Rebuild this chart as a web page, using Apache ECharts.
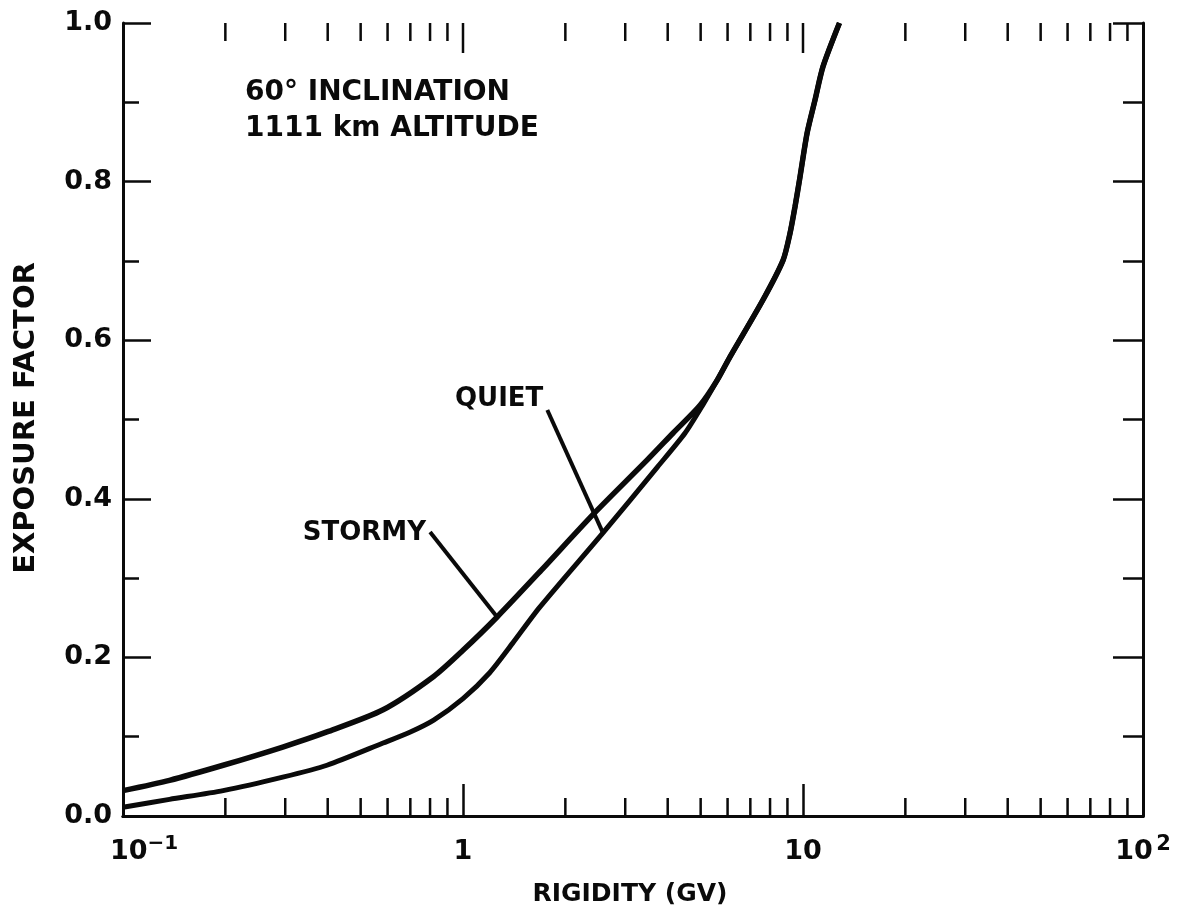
<!DOCTYPE html>
<html>
<head>
<meta charset="utf-8">
<script src="https://cdn.jsdelivr.net/npm/echarts@6/dist/echarts.min.js"></script>
<style>
  html, body { margin: 0; padding: 0; background: #fff; }
  #chart { width: 1179px; height: 916px; }
</style>
</head>
<body>
<div id="chart"></div>
<script>
// Exposure factor vs. rigidity, 60 deg orbit at 1111 km

// Lower branch of the curves, where the two conditions differ
const stormyRigidity = [0.1, 0.137, 0.197, 0.295, 0.398, 0.582, 0.82, 1.0, 1.26, 1.7, 2.41, 3.5, 4.15, 4.98, 5.6];
const stormyFactor   = [0.032, 0.045, 0.064, 0.087, 0.106, 0.134, 0.176, 0.209, 0.251, 0.31, 0.38, 0.45, 0.483, 0.518, 0.55];

const quietRigidity = [0.1, 0.137, 0.197, 0.295, 0.398, 0.582, 0.7, 0.82, 1.0, 1.2, 1.4, 1.68, 2.58, 3.73, 4.5, 5.1, 5.6];
const quietFactor   = [0.011, 0.021, 0.032, 0.049, 0.064, 0.092, 0.106, 0.121, 0.148, 0.181, 0.218, 0.263, 0.357, 0.44, 0.483, 0.52, 0.55];

// Upper branch, common to both conditions
const sharedRigidity = [6.1, 7.63, 8.74, 9.16, 9.47, 9.8, 10.28, 10.85, 11.45, 12.8];
const sharedFactor   = [0.579, 0.651, 0.701, 0.735, 0.768, 0.806, 0.861, 0.903, 0.945, 1.0];

// Log ticks: minor (2..9 in each decade) and inner decades
const minorTickValues = [0.2, 0.3, 0.4, 0.5, 0.6, 0.7, 0.8, 0.9, 2, 3, 4, 5, 6, 7, 8, 9, 20, 30, 40, 50, 60, 70, 80, 90];
const decadeTickValues = [1, 10];

// Curve labels with their leader lines (data coordinates: from label to curve)
const leaderLabels = ['QUIET', 'STORMY'];
const leaderFrom = [[1.77, 0.512], [0.80, 0.358]];
const leaderTo   = [[2.58, 0.357], [1.26, 0.251]];

const infoLines = ['60° INCLINATION', '1111 km ALTITUDE'];

const FONT = '"DejaVu Sans", "Liberation Sans", sans-serif';
const INK = '#0a0a0a';

function pairs(xs, ys) { return xs.map((x, i) => [x, ys[i]]); }

const stormyData = pairs(stormyRigidity, stormyFactor).concat(pairs(sharedRigidity, sharedFactor));
const quietData = pairs(quietRigidity, quietFactor).concat(pairs(sharedRigidity, sharedFactor));

const tickData = minorTickValues.map(v => [v, 0, 0]).concat(decadeTickValues.map(v => [v, 0, 1]));

const chart = echarts.init(document.getElementById('chart'), null, { renderer: 'canvas' });

const xTickLabel = function (v) {
  if (Math.abs(v - 0.1) < 1e-9) return '{bp|10}{s|−1}';
  if (Math.abs(v - 100) < 1e-9) return '{b|10} {s2|2}';
  return '{b|' + Math.round(v) + '}';
};

const option = {
  backgroundColor: '#fff',
  animation: false,
  grid: { left: 123, right: 36, top: 23, bottom: 100, containLabel: false },
  xAxis: [
    {
      type: 'log', logBase: 10, min: 0.1, max: 100, position: 'bottom',
      axisLine: { show: true, lineStyle: { color: INK, width: 3 } },
      axisTick: { show: true, inside: true, length: 32, lineStyle: { color: INK, width: 2.5 } },
      splitLine: { show: false },
      axisLabel: {
        show: true, margin: 18, formatter: xTickLabel, color: INK,
        rich: {
          b:  { fontFamily: FONT, fontWeight: 'bold', fontSize: 27, color: INK, lineHeight: 36 },
          bp: { fontFamily: FONT, fontWeight: 'bold', fontSize: 27, color: INK, lineHeight: 36, padding: [0, 0, 0, 42] },
          s:  { fontFamily: FONT, fontWeight: 'bold', fontSize: 20, color: INK, lineHeight: 20, verticalAlign: 'top' },
          s2: { fontFamily: FONT, fontWeight: 'bold', fontSize: 21, color: INK, lineHeight: 16, verticalAlign: 'top' }
        }
      }
    },
    {
      type: 'log', logBase: 10, min: 0.1, max: 100, position: 'top',
      axisLine: { show: true, lineStyle: { color: INK, width: 3 } },
      axisTick: { show: false },
      axisLabel: { show: false },
      splitLine: { show: false }
    }
  ],
  yAxis: [
    {
      type: 'value', min: 0, max: 1, interval: 0.2, position: 'left',
      axisLine: { show: true, lineStyle: { color: INK, width: 3 } },
      axisTick: { show: true, inside: true, length: 28, lineStyle: { color: INK, width: 2.5 } },
      minorTick: { show: true, splitNumber: 2, length: 16, lineStyle: { color: INK, width: 2.5 } },
      splitLine: { show: false },
      minorSplitLine: { show: false },
      axisLabel: {
        margin: 11, color: INK, fontFamily: FONT, fontWeight: 'bold', fontSize: 27,
        formatter: v => v.toFixed(1)
      }
    },
    {
      type: 'value', min: 0, max: 1, interval: 0.2, position: 'right',
      axisLine: { show: true, lineStyle: { color: INK, width: 3 } },
      axisTick: { show: true, inside: true, length: 30, lineStyle: { color: INK, width: 2.5 } },
      minorTick: { show: true, splitNumber: 2, length: 20, lineStyle: { color: INK, width: 2.5 } },
      splitLine: { show: false },
      minorSplitLine: { show: false },
      axisLabel: { show: false }
    }
  ],
  series: [
    {
      name: 'STORMY', type: 'line', data: stormyData, xAxisIndex: 0, yAxisIndex: 0,
      smooth: 0.25, showSymbol: false, symbol: 'none',
      lineStyle: { color: INK, width: 5.5 }, z: 5
    },
    {
      name: 'QUIET', type: 'line', data: quietData, xAxisIndex: 0, yAxisIndex: 0,
      smooth: 0.25, showSymbol: false, symbol: 'none',
      lineStyle: { color: INK, width: 5 }, z: 5
    },
    {
      // minor decade ticks on the bottom edge, all ticks on the top edge
      name: 'logTicks', type: 'custom', xAxisIndex: 0, yAxisIndex: 0, silent: true, z: 6,
      data: tickData,
      encode: { x: 0, y: 1 },
      renderItem: function (params, api) {
        const v = api.value(0);
        const major = api.value(2) === 1;
        const b = api.coord([v, 0]);
        const t = api.coord([v, 1]);
        const st = { stroke: INK, lineWidth: 2.5 };
        const children = [
          { type: 'line', shape: { x1: t[0], y1: t[1], x2: t[0], y2: t[1] + (major ? 30 : 18) }, style: st }
        ];
        if (!major) {
          children.push({ type: 'line', shape: { x1: b[0], y1: b[1], x2: b[0], y2: b[1] - 18 }, style: st });
        }
        return { type: 'group', children: children };
      }
    },
    {
      // curve labels with leader lines
      name: 'leaders', type: 'custom', xAxisIndex: 0, yAxisIndex: 0, silent: true, z: 6,
      data: leaderFrom.map((f, i) => [f[0], f[1], leaderTo[i][0], leaderTo[i][1]]),
      encode: { x: [0, 2], y: [1, 3] },
      renderItem: function (params, api) {
        const s = api.coord([api.value(0), api.value(1)]);
        const e = api.coord([api.value(2), api.value(3)]);
        const label = leaderLabels[params.dataIndex];
        const dy = label === 'QUIET' ? -11 : 1;
        return {
          type: 'group',
          children: [
            { type: 'line', shape: { x1: s[0], y1: s[1], x2: e[0], y2: e[1] }, style: { stroke: INK, lineWidth: 4 } },
            {
              type: 'text', x: s[0] - 4, y: s[1] + dy,
              style: { text: label, fill: INK, fontFamily: FONT, fontWeight: 'bold', fontSize: 26, align: 'right', verticalAlign: 'middle' }
            }
          ]
        };
      }
    }
  ],
  graphic: [
    { type: 'text', left: 245, top: 79, style: { text: infoLines[0], fill: INK, fontFamily: FONT, fontWeight: 'bold', fontSize: 28 } },
    { type: 'text', left: 245, top: 115, style: { text: infoLines[1], fill: INK, fontFamily: FONT, fontWeight: 'bold', fontSize: 28 } },
    { type: 'text', x: 630, y: 894, style: { text: 'RIGIDITY (GV)', fill: INK, fontFamily: FONT, fontWeight: 'bold', fontSize: 25, align: 'center', verticalAlign: 'middle' } },
    { type: 'text', x: 26, y: 418, rotation: Math.PI / 2, style: { text: 'EXPOSURE FACTOR', fill: INK, fontFamily: FONT, fontWeight: 'bold', fontSize: 29, align: 'center', verticalAlign: 'middle' } }
  ]
};

chart.setOption(option);
</script>
</body>
</html>
